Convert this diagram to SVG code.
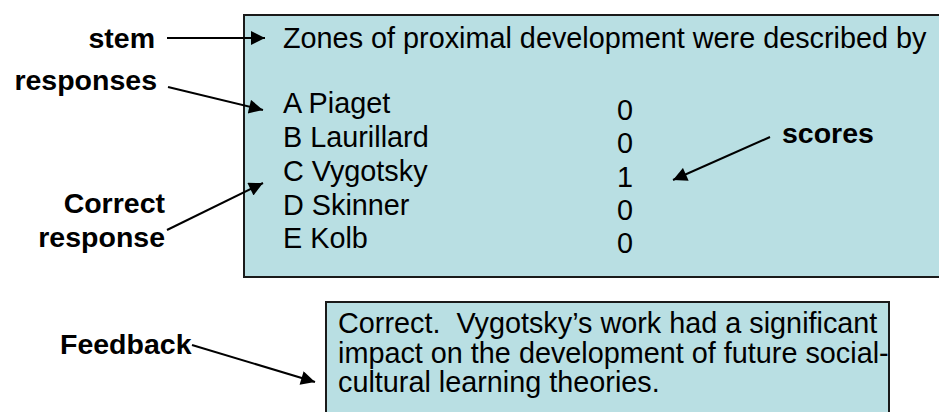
<svg xmlns="http://www.w3.org/2000/svg" width="939" height="412" viewBox="0 0 939 412">
<defs>
<style>
.box{fill:#b9dfe3;stroke:#1a1a1a;stroke-width:2}
.t{font-family:"Liberation Sans",Arial,sans-serif;font-size:28.8px;fill:#000;white-space:pre}
.lb{font-family:"Liberation Sans",Arial,sans-serif;font-size:28.5px;font-weight:bold;fill:#000}
.c{stroke:#000;stroke-width:2;fill:none;marker-end:url(#ah)}
</style>
<marker id="ah" viewBox="0 0 10 10" refX="10" refY="5" markerWidth="8" markerHeight="7" markerUnits="strokeWidth" orient="auto">
<path d="M0,0 L10,5 L0,10 Z" fill="#000"/>
</marker>
</defs>
<g id="question">
<rect class="box" x="244" y="15" width="710" height="262"/>
<text class="t" x="283" y="48">Zones of proximal development were described by</text>
<text class="t" x="283" y="113">A Piaget</text>
<text class="t" x="283" y="147">B Laurillard</text>
<text class="t" x="283" y="181">C Vygotsky</text>
<text class="t" x="283" y="215">D Skinner</text>
<text class="t" x="283" y="248">E Kolb</text>
<text class="t" x="617" y="120">0</text>
<text class="t" x="617" y="153">0</text>
<text class="t" x="617" y="187">1</text>
<text class="t" x="617" y="220">0</text>
<text class="t" x="617" y="253">0</text>
</g>
<g id="feedback-box">
<rect class="box" x="326" y="302" width="563" height="130"/>
<text class="t" x="338" y="333" xml:space="preserve">Correct.  Vygotsky’s work had a significant</text>
<text class="t" x="338" y="363">impact on the development of future social-</text>
<text class="t" x="338" y="392">cultural learning theories.</text>
</g>
<g id="label-stem"><text class="lb" x="155" y="48" text-anchor="end">stem</text></g>
<g id="label-responses"><text class="lb" x="157" y="90" text-anchor="end">responses</text></g>
<g id="label-correct"><text class="lb" x="165" y="213" text-anchor="end">Correct</text><text class="lb" x="165" y="247" text-anchor="end">response</text></g>
<g id="label-scores"><text class="lb" x="782" y="143">scores</text></g>
<g id="label-feedback"><text class="lb" x="60" y="354">Feedback</text></g>
<g id="connectors">
<line class="c" x1="167" y1="38" x2="265" y2="38"/>
<line class="c" x1="168" y1="87" x2="263" y2="110"/>
<line class="c" x1="167" y1="230" x2="263" y2="183"/>
<line class="c" x1="770" y1="137" x2="673" y2="180"/>
<line class="c" x1="192" y1="345" x2="315" y2="382"/>
</g>
</svg>
